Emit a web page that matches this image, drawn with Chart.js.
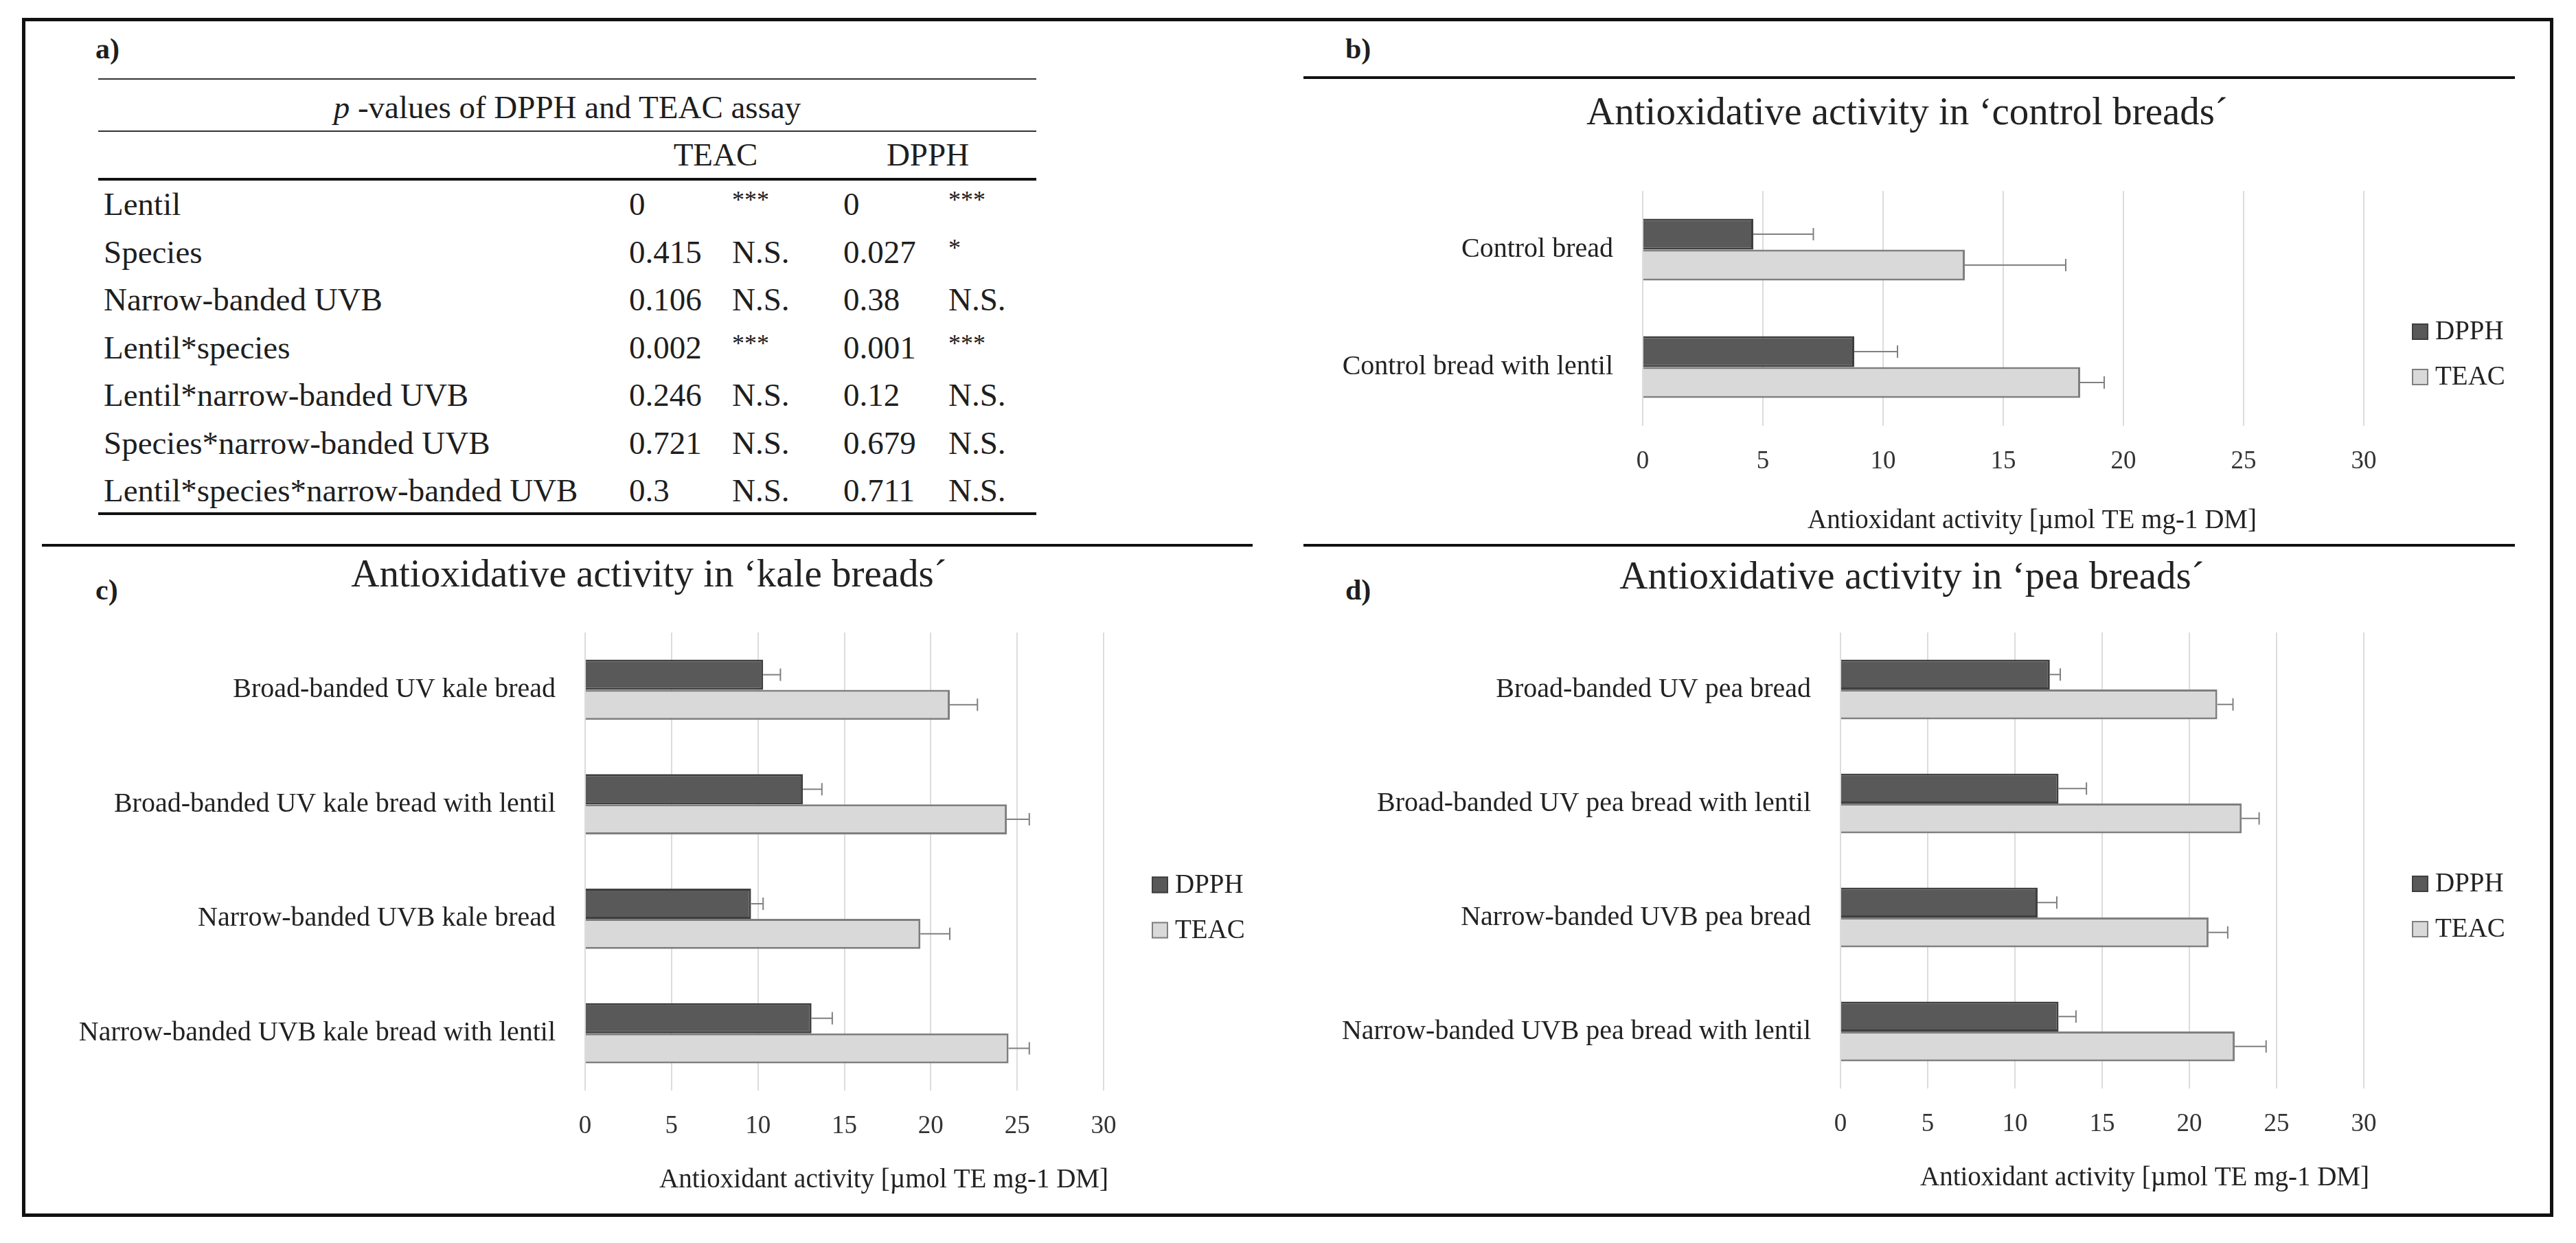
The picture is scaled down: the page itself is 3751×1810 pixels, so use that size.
<!DOCTYPE html>
<html>
<head>
<meta charset="utf-8">
<script src="https://cdn.jsdelivr.net/npm/chart.js@4.4.0/dist/chart.umd.min.js"></script>
<style>
  body { margin: 0; background: #fff; width: 3751px; height: 1810px; position: relative; overflow: hidden;
         font-family: "Liberation Serif", serif; color: #1e1e1e; }
  #frame { position: absolute; left: 32px; top: 26px; width: 3686px; height: 1746px; box-sizing: border-box; border: 5px solid #111; }
  .rule { position: absolute; background: #111; }
  .panel { position: absolute; font-weight: bold; font-size: 42px; line-height: 42px; }
  .cell { position: absolute; white-space: nowrap; font-size: 47px; line-height: 47px; transform: translateY(-50%); }
  .cell.star { font-size: 36px; transform: translateY(-62%); }
  canvas { position: absolute; }
</style>
</head>
<body>
<div id="frame"></div>

<div class="panel" style="left:139px;top:50px">a)</div>
<div class="panel" style="left:1959px;top:50px">b)</div>
<div class="panel" style="left:139px;top:838px">c)</div>
<div class="panel" style="left:1959px;top:838px">d)</div>

<div class="rule" style="left:1898px;top:111px;width:1764px;height:4px"></div>
<div class="rule" style="left:61px;top:792px;width:1763px;height:4px"></div>
<div class="rule" style="left:1898px;top:792px;width:1764px;height:4px"></div>

<!-- table a) -->
<div class="rule" style="left:143px;top:114px;width:1366px;height:2px;background:#333"></div>
<div class="rule" style="left:143px;top:190px;width:1366px;height:2px;background:#333"></div>
<div class="rule" style="left:143px;top:259px;width:1366px;height:4px"></div>
<div class="rule" style="left:143px;top:746px;width:1366px;height:4px"></div>
<div id="table"></div>

<canvas id="chartB"></canvas>
<canvas id="chartC"></canvas>
<canvas id="chartD"></canvas>

<script>
// ---- table a) ----
const tableTitle = "-values of DPPH and TEAC assay";
const tableHeads = ["TEAC", "DPPH"];
const factors = ["Lentil", "Species", "Narrow-banded UVB", "Lentil*species",
  "Lentil*narrow-banded UVB", "Species*narrow-banded UVB", "Lentil*species*narrow-banded UVB"];
const teacP = ["0", "0.415", "0.106", "0.002", "0.246", "0.721", "0.3"];
const teacSig = ["***", "N.S.", "N.S.", "***", "N.S.", "N.S.", "N.S."];
const dpphP = ["0", "0.027", "0.38", "0.001", "0.12", "0.679", "0.711"];
const dpphSig = ["***", "*", "N.S.", "***", "N.S.", "N.S.", "N.S."];

// ---- charts ----
const seriesNames = ["DPPH", "TEAC"];
const xTicks = [0, 5, 10, 15, 20, 25, 30];
const axisTitle = "Antioxidant activity [\u00b5mol TE mg-1 DM]";

const controlLabels = ["Control bread", "Control bread with lentil"];
const controlDPPH = [4.6, 8.8];
const controlDPPHErr = [2.5, 1.8];
const controlTEAC = [13.4, 18.2];
const controlTEACErr = [4.2, 1.0];

const kaleLabels = ["Broad-banded UV kale bread", "Broad-banded UV kale bread with lentil",
  "Narrow-banded UVB kale bread", "Narrow-banded UVB kale bread with lentil"];
const kaleDPPH = [10.3, 12.6, 9.6, 13.1];
const kaleDPPHErr = [1.0, 1.1, 0.7, 1.2];
const kaleTEAC = [21.1, 24.4, 19.4, 24.5];
const kaleTEACErr = [1.6, 1.3, 1.7, 1.2];

const peaLabels = ["Broad-banded UV pea bread", "Broad-banded UV pea bread with lentil",
  "Narrow-banded UVB pea bread", "Narrow-banded UVB pea bread with lentil"];
const peaDPPH = [12.0, 12.5, 11.3, 12.5];
const peaDPPHErr = [0.6, 1.6, 1.1, 1.0];
const peaTEAC = [21.6, 23.0, 21.1, 22.6];
const peaTEACErr = [0.9, 1.0, 1.1, 1.8];

const FONT = "Liberation Serif";
const colors = { dpphFill: "#595959", dpphLine: "#3f3f3f", teacFill: "#d9d9d9", teacLine: "#7f7f7f" };

// build the table
const table = document.getElementById("table");
function cell(text, x, y, center, italicPrefix) {
  const d = document.createElement("div");
  d.className = "cell" + (text.indexOf("*") === 0 ? " star" : "");
  d.style.top = y + "px";
  d.style.left = x + "px";
  if (center) d.style.transform = "translate(-50%,-50%)";
  if (italicPrefix) {
    const i = document.createElement("i");
    i.textContent = italicPrefix + " ";
    d.appendChild(i);
  }
  d.appendChild(document.createTextNode(text));
  table.appendChild(d);
}
cell(tableTitle, 826, 156, true, "p");
cell(tableHeads[0], 1042, 225, true);
cell(tableHeads[1], 1351, 225, true);
for (let i = 0; i < factors.length; i++) {
  const y = 297 + i * 69.5;
  cell(factors[i], 151, y);
  cell(teacP[i], 916, y);
  cell(teacSig[i], 1066, y);
  cell(dpphP[i], 1228, y);
  cell(dpphSig[i], 1381, y);
}

// error bars, legend, title and axis title drawn on top of each chart
const decor = {
  id: "decor",
  afterDatasetsDraw(chart) {
    const ctx = chart.ctx;
    const xs = chart.scales.x;
    ctx.save();
    chart.data.datasets.forEach((ds, i) => {
      const meta = chart.getDatasetMeta(i);
      meta.data.forEach((bar, j) => {
        const x2 = xs.getPixelForValue(ds.data[j] + ds.errors[j]);
        ctx.strokeStyle = "#808080";
        ctx.lineWidth = 2;
        ctx.beginPath();
        ctx.moveTo(bar.x, bar.y);
        ctx.lineTo(x2, bar.y);
        ctx.moveTo(x2, bar.y - 9);
        ctx.lineTo(x2, bar.y + 9);
        ctx.stroke();
      });
    });
    ctx.restore();
  },
  afterDraw(chart) {
    const ctx = chart.ctx;
    const o = chart.options.plugins.decor;
    const a = chart.chartArea;
    ctx.save();
    ctx.fillStyle = "#222";
    ctx.textBaseline = "middle";
    ctx.textAlign = "center";
    ctx.font = "57px '" + FONT + "'";
    ctx.fillText(o.title, chart.width / 2, o.titleY);
    ctx.font = "39px '" + FONT + "'";
    ctx.fillText(axisTitle, o.axisX, o.axisY);
    // legend
    const cy = (a.top + a.bottom) / 2 + 67;
    chart.data.datasets.forEach((ds, i) => {
      const y = cy + (i === 0 ? -33 : 33);
      const x = a.right + 70;
      ctx.fillStyle = ds.backgroundColor;
      ctx.fillRect(x, y - 12, 24, 24);
      ctx.strokeStyle = ds.borderColor;
      ctx.lineWidth = 2;
      ctx.strokeRect(x + 1, y - 11, 22, 22);
      ctx.fillStyle = "#222";
      ctx.textAlign = "left";
      ctx.fillText(ds.label, x + 34, y + 1);
    });
    ctx.restore();
  }
};

function makeChart(id, g, title, labels, dpph, dpphErr, teac, teacErr) {
  const cv = document.getElementById(id);
  cv.width = g.w; cv.height = g.h;
  cv.style.left = g.x + "px"; cv.style.top = g.y + "px";
  cv.style.width = g.w + "px"; cv.style.height = g.h + "px";
  new Chart(cv, {
    type: "bar",
    data: {
      labels: labels,
      datasets: [
        { label: seriesNames[0], data: dpph, errors: dpphErr, backgroundColor: colors.dpphFill,
          borderColor: colors.dpphLine, borderWidth: 3 },
        { label: seriesNames[1], data: teac, errors: teacErr, backgroundColor: colors.teacFill,
          borderColor: colors.teacLine, borderWidth: 3 }
      ]
    },
    options: {
      indexAxis: "y",
      responsive: false,
      animation: false,
      devicePixelRatio: 1,
      categoryPercentage: 0.525,
      barPercentage: 1.0,
      layout: { padding: { left: 0, top: g.top - g.y, right: g.x + g.w - g.right, bottom: 0 } },
      plugins: {
        legend: { display: false },
        title: { display: false },
        tooltip: { enabled: false },
        decor: { title: title, titleY: g.titleY - g.y, axisX: g.axisX - g.x, axisY: g.axisY - g.y }
      },
      scales: {
        x: {
          min: 0, max: 30,
          afterBuildTicks: s => { s.ticks = xTicks.map(v => ({ value: v })); },
          afterFit: s => { s.height = g.y + g.h - g.bottom; },
          grid: { color: "#dcdcdc", lineWidth: 2, drawTicks: false },
          border: { display: false },
          ticks: { color: "#333", padding: 30, font: { family: FONT, size: 37 } }
        },
        y: {
          afterFit: s => { s.width = g.left - g.x; },
          grid: { display: false, drawTicks: false },
          border: { display: false },
          ticks: { color: "#222", padding: 43, font: { family: FONT, size: 40 } }
        }
      }
    },
    plugins: [decor]
  });
}

makeChart("chartB",
  { x: 1892, y: 120, w: 1770, h: 670, left: 2392, right: 3442, top: 278, bottom: 620,
    titleY: 166, axisX: 2959, axisY: 759 },
  "Antioxidative activity in \u2018control breads\u00b4",
  controlLabels, controlDPPH, controlDPPHErr, controlTEAC, controlTEACErr);

makeChart("chartC",
  { x: 60, y: 800, w: 1770, h: 962, left: 852, right: 1607, top: 921, bottom: 1588,
    titleY: 839, axisX: 1287, axisY: 1719 },
  "Antioxidative activity in \u2018kale breads\u00b4",
  kaleLabels, kaleDPPH, kaleDPPHErr, kaleTEAC, kaleTEACErr);

makeChart("chartD",
  { x: 1898, y: 800, w: 1772, h: 962, left: 2680, right: 3442, top: 921, bottom: 1585,
    titleY: 842, axisX: 3123, axisY: 1716 },
  "Antioxidative activity in \u2018pea breads\u00b4",
  peaLabels, peaDPPH, peaDPPHErr, peaTEAC, peaTEACErr);
</script>
</body>
</html>
